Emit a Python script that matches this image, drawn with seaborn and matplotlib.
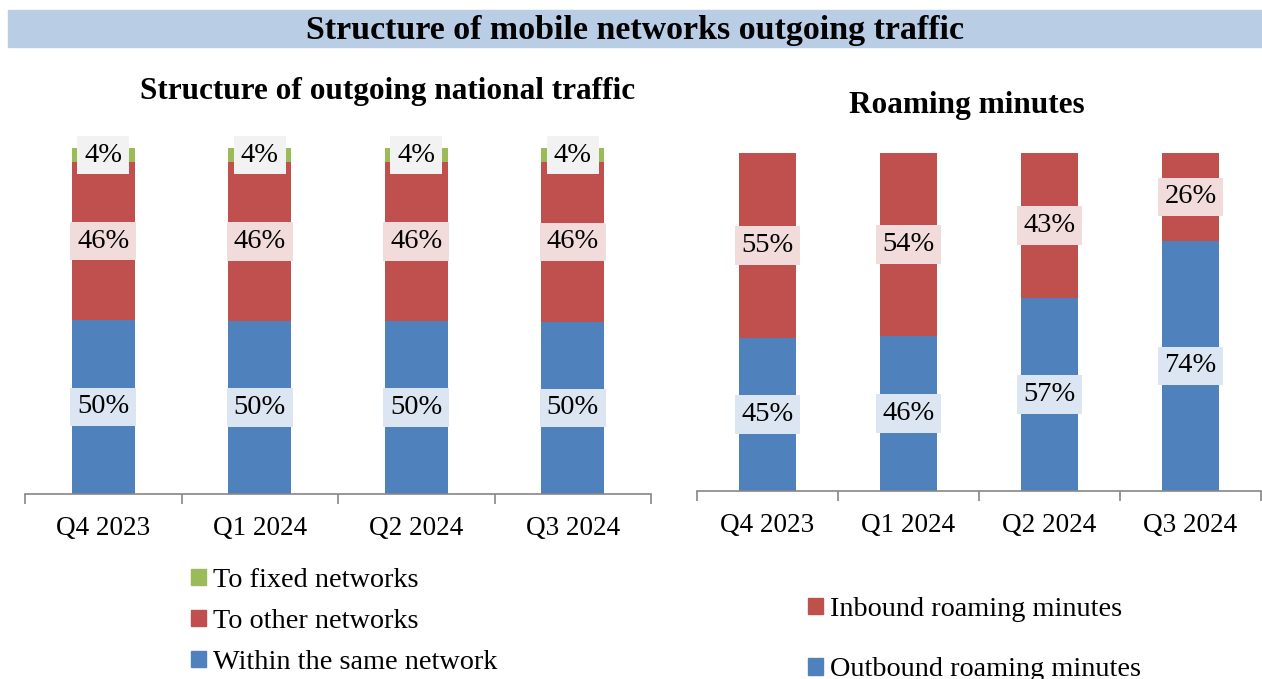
import matplotlib
matplotlib.use("Agg")
import matplotlib.pyplot as plt
import seaborn as sns
import numpy as np
from matplotlib.patches import Patch, Rectangle

quarters = ["Q4 2023", "Q1 2024", "Q2 2024", "Q3 2024"]

# national traffic structure, %
within_same = [50.3, 50.1, 50.0, 49.8]
to_other = [45.6, 45.8, 45.9, 46.1]
to_fixed = [4.1, 4.1, 4.1, 4.1]
within_lbl = ["50%", "50%", "50%", "50%"]
other_lbl = ["46%", "46%", "46%", "46%"]
fixed_lbl = ["4%", "4%", "4%", "4%"]

# roaming minutes, %
outbound = [45.3, 45.9, 57.1, 74.0]
inbound = [54.7, 54.1, 42.9, 26.0]
outbound_lbl = ["45%", "46%", "57%", "74%"]
inbound_lbl = ["55%", "54%", "43%", "26%"]

BLUE = "#4f81bd"
RED = "#c0504d"
GREEN = "#9bbb59"
FONT = "Liberation Serif"

sns.set_theme(style="white")
plt.rcParams["font.family"] = [FONT, "DejaVu Serif"]
plt.rcParams["text.color"] = "black"
plt.rcParams["xtick.color"] = "black"

W, H = 1262, 679
fig = plt.figure(figsize=(W / 100, H / 100), dpi=100)

# banner title
fig.patches.append(Rectangle((8 / W, 1 - 47 / H), 1 - 8 / W, 37 / H,
                             transform=fig.transFigure, color="#b9cde5", zorder=0))
fig.text(635 / W, 1 - 31 / H, "Structure of mobile networks outgoing traffic",
         ha="center", va="center", fontsize=24.5, fontweight="bold")


def stacked(ax, layers, labels, colors, boxes):
    bottom = np.zeros(len(quarters))
    for vals, lbls, col, box in zip(layers, labels, colors, boxes):
        sns.barplot(x=quarters, y=vals, bottom=bottom, color=col, width=0.4,
                    saturation=1, ax=ax, linewidth=0)
        for i, (v, t) in enumerate(zip(vals, lbls)):
            ax.text(i, bottom[i] + v / 2, t, ha="center", va="center",
                    fontsize=20.5, color="black",
                    bbox=dict(boxstyle="square,pad=0.24", fc=box, ec="none"))
        bottom = bottom + np.array(vals)
    ax.set_xlim(-0.5, 3.5)
    ax.set_ylim(0, 100)
    for s in ["left", "right", "top"]:
        ax.spines[s].set_visible(False)
    ax.spines["bottom"].set_color("#868686")
    ax.spines["bottom"].set_linewidth(1.2)
    ax.set_yticks([])
    ax.set_xticks([-0.5, 0.5, 1.5, 2.5, 3.5], minor=True)
    ax.tick_params(axis="x", which="minor", length=7, width=1.2, color="#868686", bottom=True)
    ax.tick_params(axis="x", which="major", length=0, labelsize=19.5, pad=16)
    ax.set_xlabel("")
    ax.set_ylabel("")
    ax.patch.set_alpha(0)


leg_kw = dict(loc="upper left", frameon=False, fontsize=20.3, handlelength=0.53,
              handleheight=0.53, handletextpad=0.25, borderpad=0, borderaxespad=0)

# left chart
ax1 = fig.add_axes([25 / W, 1 - 494 / H, 626 / W, 346 / H])
stacked(ax1, [within_same, to_other, to_fixed], [within_lbl, other_lbl, fixed_lbl],
        [BLUE, RED, GREEN], ["#dce6f2", "#f2dcdb", "#f2f2f2"])
fig.text(388 / W, 1 - 92 / H, "Structure of outgoing national traffic",
         ha="center", va="center", fontsize=22.5, fontweight="bold")
h1 = [Patch(color=GREEN), Patch(color=RED), Patch(color=BLUE)]
fig.legend(h1, ["To fixed networks", "To other networks", "Within the same network"],
           bbox_to_anchor=(191 / W, 1 - 568 / H), labelspacing=0.57, **leg_kw)

# right chart
ax2 = fig.add_axes([697 / W, 1 - 491 / H, 564 / W, 338 / H])
stacked(ax2, [outbound, inbound], [outbound_lbl, inbound_lbl],
        [BLUE, RED], ["#dce6f2", "#f2dcdb"])
fig.text(967 / W, 1 - 105 / H, "Roaming minutes",
         ha="center", va="center", fontsize=22.5, fontweight="bold")
h2 = [Patch(color=RED), Patch(color=BLUE)]
fig.legend(h2, ["Inbound roaming minutes", "Outbound roaming minutes"],
           bbox_to_anchor=(808 / W, 1 - 597 / H), labelspacing=1.25, **leg_kw)

fig.savefig("out.png", dpi=100)
